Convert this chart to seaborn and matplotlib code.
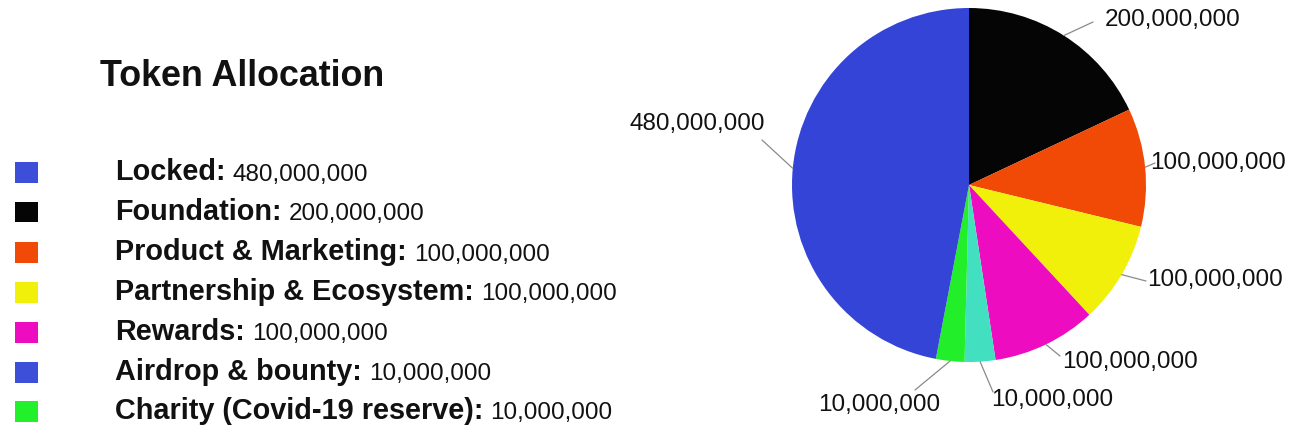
import matplotlib
matplotlib.use("Agg")
import matplotlib.pyplot as plt
import seaborn as sns
import numpy as np
from matplotlib.patches import Rectangle

# legend entries (as listed on the left)
categories = ["Locked", "Foundation", "Product & Marketing", "Partnership & Ecosystem",
              "Rewards", "Airdrop & bounty", "Charity (Covid-19 reserve)"]
amounts = [480_000_000, 200_000_000, 100_000_000, 100_000_000,
           100_000_000, 10_000_000, 10_000_000]
legend_colors = ["#3d4fd8", "#050505", "#f04a06", "#f0f00a", "#ee0cc0", "#3d4fd8", "#22f02a"]

# pie slices clockwise from 12 o'clock, shares (%) as they are drawn in the picture
slice_share = [18.0, 10.8, 9.3, 9.5, 2.8, 2.6, 47.0]
slice_labels = ["200,000,000", "100,000,000", "100,000,000", "100,000,000",
                "10,000,000", "10,000,000", "480,000,000"]
slice_colors = ["#050505", "#f04a06", "#f0f00a", "#ee0cc0", "#42e0c0", "#22ee2a", "#3444d6"]

W, H = 1299, 438
CX, CY, R = 969, 185, 177   # pie centre / radius in pixels

# label layout: (line end x, line end y, text x, text y, ha)
label_layout = [
    (1093, 22, 1105, 20, "left"),
    (1155, 163, 1150, 163, "left"),
    (1146, 281, 1147, 280, "left"),
    (1060, 356, 1062, 362, "left"),
    (993, 392, 991, 400, "left"),
    (915, 390, 940, 405, "right"),
    (762, 140, 765, 124, "right"),
]

sns.set_theme(style="white")
plt.rcParams['font.family'] = ['Liberation Sans', 'DejaVu Sans']
NUM_SIZE = 17.5


def to_data(px, py):
    return (px - CX) / R, (CY - py) / R


fig = plt.figure(figsize=(W / 100, H / 100), dpi=100)
ax = fig.add_axes([(CX - R) / W, (H - CY - R) / H, 2 * R / W, 2 * R / H])
wedges, _ = ax.pie(slice_share, colors=sns.color_palette(slice_colors), startangle=90,
                   counterclock=False, wedgeprops=dict(linewidth=0))
ax.set_xlim(-1, 1)
ax.set_ylim(-1, 1)
ax.axis('off')

for w, lab, (lx, ly, tx, ty, ha) in zip(wedges, slice_labels, label_layout):
    mid = np.deg2rad((w.theta1 + w.theta2) / 2)
    x0, y0 = np.cos(mid), np.sin(mid)
    x1, y1 = to_data(lx, ly)
    ax.plot([x0, x1], [y0, y1], color="#8a8a8a", lw=0.9, clip_on=False)
    xt, yt = to_data(tx, ty)
    ax.text(xt, yt, lab, ha=ha, va='center', fontsize=NUM_SIZE, color="#111111")

# title and legend
fig.text(100 / W, 1 - 86 / H, "Token Allocation", fontsize=25.8, fontweight='bold',
         ha='left', va='baseline', color="#111111")

renderer = fig.canvas.get_renderer()
row_y = [172.5, 212, 252.5, 292, 332, 372, 411]
for name, amt, col, y in zip(categories, amounts, legend_colors, row_y):
    fig.patches.append(Rectangle((15 / W, 1 - (y + 10.5) / H), 23 / W, 21 / H,
                                 transform=fig.transFigure, facecolor=col, edgecolor='none'))
    t = fig.text(115 / W, 1 - (y + 8) / H, name + ":", fontsize=20.8, fontweight='bold',
                 ha='left', va='baseline', color="#111111")
    bb = t.get_window_extent(renderer)
    fig.text((bb.x1 + 7) / W, 1 - (y + 8) / H, f"{amt:,}", fontsize=NUM_SIZE,
             ha='left', va='baseline', color="#111111")

fig.savefig("out.png", dpi=100)
